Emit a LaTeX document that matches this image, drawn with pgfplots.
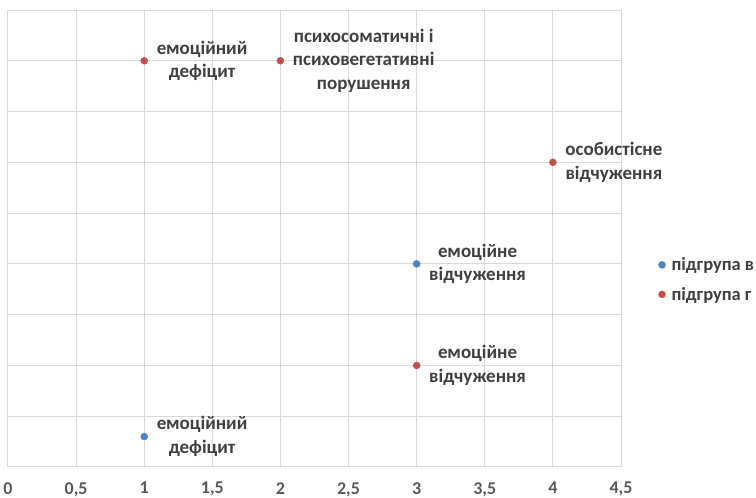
\documentclass[border=0pt]{standalone}
\usepackage{pgfplots}
\pgfplotsset{compat=1.18}
\usepackage{fontspec}
\setmainfont{Carlito}
\definecolor{gridc}{HTML}{D9D9D9}
\definecolor{txtc}{HTML}{404040}
\definecolor{tickc}{HTML}{595959}
\definecolor{serB}{HTML}{4F81BD}
\definecolor{serR}{HTML}{C0504D}
\begin{document}
\begin{tikzpicture}
\useasboundingbox (-8pt,-31pt) rectangle (748pt,467pt);
\begin{axis}[
  at={(0,0)}, anchor=south west,
  scale only axis, width=613pt, height=457pt,
  xmin=0, xmax=4.5, ymin=0, ymax=9,
  xtick={0,0.5,...,4.5},
  xticklabels={0,{0,5},1,{1,5},2,{2,5},3,{3,5},4,{4,5}},
  ytick={0,1,...,9}, yticklabels={},
  grid=major, grid style={gridc, line width=1pt},
  axis line style={gridc, line width=1pt},
  major tick length=0pt,
  tick label style={font=\fontsize{18}{20}\selectfont\bfseries, text=tickc},
  xticklabel style={inner sep=0pt, yshift=-15pt},
  clip=false,
  legend style={at={(1.056,0.41)}, anchor=west, draw=none, fill=none,
    font=\fontsize{18.5}{21}\selectfont\bfseries, text=txtc, row sep=11pt,
    column sep=4pt},
  legend cell align=left,
  every node near coord/.append style={anchor=west, xshift=9pt, align=center,
    font=\fontsize{19}{23.5}\selectfont\bfseries, text=txtc},
]
\addplot[only marks, mark=*, color=serB, mark size=3.5pt,
  nodes near coords, point meta=explicit symbolic]
  coordinates {(3,4) [{емоційне\\відчуження}] (1,0.6) [{емоційний\\дефіцит}]};
\addlegendentry{підгрупа в}
\addplot[only marks, mark=*, color=serR, mark size=3.5pt,
  nodes near coords, point meta=explicit symbolic]
  coordinates {(1,8) [{емоційний\\дефіцит}] (2,8) [{психосоматичні і\\психовегетативні\\порушення}] (4,6) [{особистісне\\відчуження}] (3,2) [{емоційне\\відчуження}]};
\addlegendentry{підгрупа г}
\end{axis}
\end{tikzpicture}
\end{document}
